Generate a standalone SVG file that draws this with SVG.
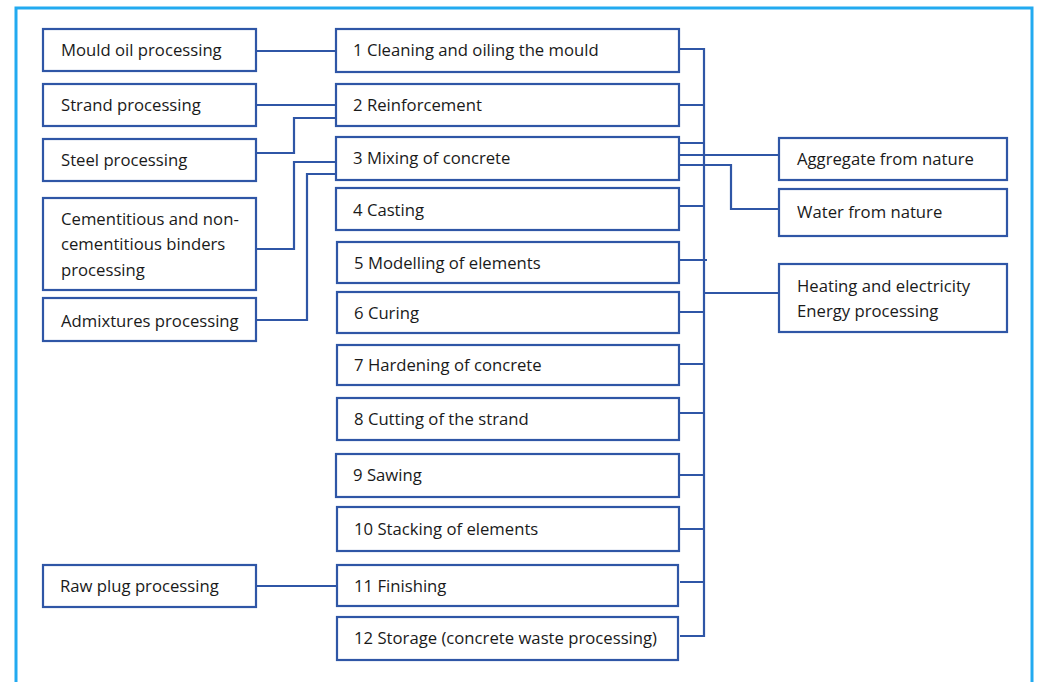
<svg xmlns="http://www.w3.org/2000/svg" width="1041" height="682" viewBox="0 0 1041 682">
<style>
.b{fill:#fff;stroke:#2f56a6;stroke-width:2.2}
.t{font-family:"Open Sans","Liberation Sans",sans-serif;font-size:16.7px;fill:#1a1a1a}
.c{fill:none;stroke:#2f56a6;stroke-width:2.2}
</style>
<rect x="0" y="0" width="1041" height="682" fill="#fff"/>
<rect x="16" y="8" width="1016" height="690" fill="none" stroke="#22aaf0" stroke-width="3"/>
<g id="connectors">
<path class="c" d="M256 51H336M256 105H336M256 153H294V118H336M256 249H294V162H336M256 320H307V174H336M256 586H336"/>
<path class="c" d="M680 49H704V636H680M680 105H704M680 143H704M680 206H704M680 260H707M680 312H704M680 364H704M680 413H704M680 475H704M680 529H704M680 582H704M704 293H779M680 155H779M680 165H731V209H779"/>
</g>
<g id="n_mould"><rect class="b" x="43" y="29" width="213" height="42"/><text class="t" x="61" y="56">Mould oil processing</text></g>
<g id="n_strand"><rect class="b" x="43" y="84" width="213" height="42"/><text class="t" x="61" y="111">Strand processing</text></g>
<g id="n_steel"><rect class="b" x="43" y="139" width="213" height="42"/><text class="t" x="61" y="166">Steel processing</text></g>
<g id="n_binders"><rect class="b" x="43" y="198" width="213" height="92"/><text class="t" x="61" y="225">Cementitious and non-</text><text class="t" x="61" y="250">cementitious binders</text><text class="t" x="61" y="276">processing</text></g>
<g id="n_admix"><rect class="b" x="43" y="298" width="213" height="43"/><text class="t" x="61" y="327">Admixtures processing</text></g>
<g id="n_rawplug"><rect class="b" x="43" y="565" width="213" height="42"/><text class="t" x="60" y="592">Raw plug processing</text></g>
<g id="s1"><rect class="b" x="336" y="29" width="343" height="43"/><text class="t" x="353" y="56">1 Cleaning and oiling the mould</text></g>
<g id="s2"><rect class="b" x="336" y="84" width="343" height="42"/><text class="t" x="353" y="111">2 Reinforcement</text></g>
<g id="s3"><rect class="b" x="336" y="137" width="343" height="43"/><text class="t" x="353" y="164">3 Mixing of concrete</text></g>
<g id="s4"><rect class="b" x="336" y="188" width="343" height="42"/><text class="t" x="353" y="216">4 Casting</text></g>
<g id="s5"><rect class="b" x="337" y="242" width="342" height="41"/><text class="t" x="354" y="269">5 Modelling of elements</text></g>
<g id="s6"><rect class="b" x="337" y="292" width="342" height="41"/><text class="t" x="354" y="319">6 Curing</text></g>
<g id="s7"><rect class="b" x="337" y="345" width="342" height="40"/><text class="t" x="354" y="371">7 Hardening of concrete</text></g>
<g id="s8"><rect class="b" x="337" y="398" width="342" height="42"/><text class="t" x="354" y="425">8 Cutting of the strand</text></g>
<g id="s9"><rect class="b" x="336" y="454" width="343" height="43"/><text class="t" x="353" y="481">9 Sawing</text></g>
<g id="s10"><rect class="b" x="337" y="507" width="342" height="44"/><text class="t" x="354" y="535">10 Stacking of elements</text></g>
<g id="s11"><rect class="b" x="337" y="565" width="341" height="41"/><text class="t" x="354" y="592">11 Finishing</text></g>
<g id="s12"><rect class="b" x="337" y="617" width="341" height="43"/><text class="t" x="354" y="644">12 Storage (concrete waste processing)</text></g>
<g id="n_aggregate"><rect class="b" x="779" y="138" width="228" height="42"/><text class="t" x="797" y="165">Aggregate from nature</text></g>
<g id="n_water"><rect class="b" x="779" y="189" width="228" height="47"/><text class="t" x="797" y="218">Water from nature</text></g>
<g id="n_energy"><rect class="b" x="779" y="264" width="228" height="68"/><text class="t" x="797" y="292">Heating and electricity</text><text class="t" x="797" y="317">Energy processing</text></g>
</svg>
